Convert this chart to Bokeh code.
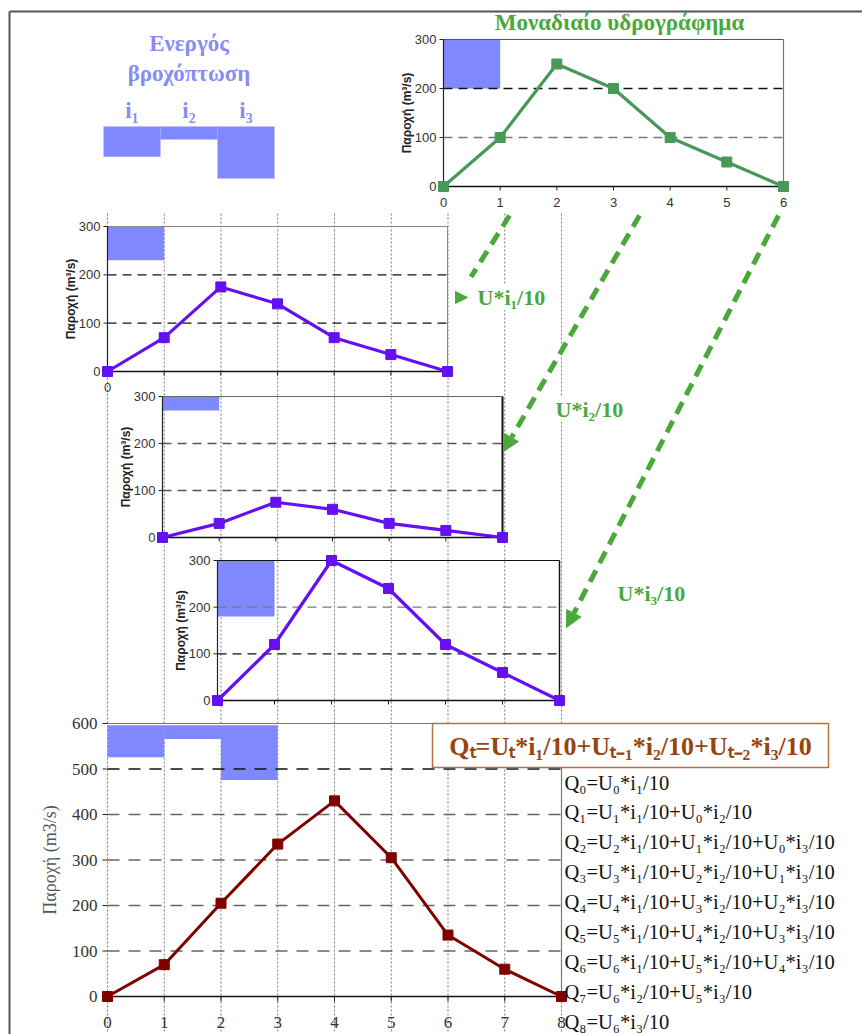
import numpy as np
from bokeh.plotting import figure
from bokeh.models import Range1d
from bokeh.core.properties import value
from bokeh.embed import file_html
from bokeh.resources import INLINE

# ---------------- data ----------------
rain_labels = ["i₁", "i₂", "i₃"]
rain = [7, 3, 12]                       # effective rainfall blocks
unit_rain = [10]                        # rainfall of the unit hydrograph
t_unit = [0, 1, 2, 3, 4, 5, 6]
U = [0, 100, 250, 200, 100, 50, 0]      # unit hydrograph
Q_i1 = [0, 70, 175, 140, 70, 35, 0]     # U*i1/10
Q_i2 = [0, 30, 75, 60, 30, 15, 0]       # U*i2/10
Q_i3 = [0, 120, 300, 240, 120, 60, 0]   # U*i3/10
t_total = [0, 1, 2, 3, 4, 5, 6, 7, 8]
Q_total = [0, 70, 205, 335, 430, 305, 135, 60, 0]
small_yticks = [0, 100, 200, 300]
final_yticks = [0, 100, 200, 300, 400, 500, 600]
title_rain = ["Ενεργός", "βροχόπτωση"]
title_unit = "Μοναδιαίο υδρογράφημα"
ylabel_small = "Παροχή (m³/s)"
ylabel_final = "Παροχή (m3/s)"
arrow_labels = ["U*i₁/10", "U*i₂/10", "U*i₃/10"]
formula_main = "Qₜ=Uₜ*i₁/10+Uₜ₋₁*i₂/10+Uₜ₋₂*i₃/10"
formula_lines = [
    "Q₀=U₀*i₁/10",
    "Q₁=U₁*i₁/10+U₀*i₂/10",
    "Q₂=U₂*i₁/10+U₁*i₂/10+U₀*i₃/10",
    "Q₃=U₃*i₁/10+U₂*i₂/10+U₁*i₃/10",
    "Q₄=U₄*i₁/10+U₃*i₂/10+U₂*i₃/10",
    "Q₅=U₅*i₁/10+U₄*i₂/10+U₃*i₃/10",
    "Q₆=U₆*i₁/10+U₅*i₂/10+U₄*i₃/10",
    "Q₇=U₆*i₂/10+U₅*i₃/10",
    "Q₈=U₆*i₃/10",
]

# ---------------- styles ----------------
BAR = "#8088FF"
PURPLE = "#6410F2"
GREEN_U = "#47995A"
GREEN_A = "#4BA83A"
DARKRED = "#800000"
HYETO_TXT = "#8A8CF2"
BOX_LINE = "#B3703F"
BOX_TXT = "#97440F"
SANS = value("Liberation Sans")
SERIF = value("Liberation Serif")

W, H = 862, 1034
PX0, PX1 = 0, W
PY0, PY1 = 0, H

p = figure(width=W, height=H, x_range=Range1d(PX0, PX1), y_range=Range1d(PY1, PY0),
           output_backend="svg", toolbar_location=None, x_axis_type=None, y_axis_type=None,
           min_border=0, outline_line_color=None, title_location=None,
           background_fill_color="white", border_fill_color="white")
p.grid.grid_line_color = None


def lin(d0, p0, d1, p1, px):
    return d0 + (px - p0) * (d1 - d0) / (p1 - p0)


SCALE = {}


def add_frame(name, xd, xp, yd, yp):
    p.extra_x_ranges[name] = Range1d(start=lin(xd[0], xp[0], xd[1], xp[1], PX0),
                                     end=lin(xd[0], xp[0], xd[1], xp[1], PX1))
    p.extra_y_ranges[name] = Range1d(start=lin(yd[0], yp[0], yd[1], yp[1], PY1),
                                     end=lin(yd[0], yp[0], yd[1], yp[1], PY0))
    SCALE[name] = (abs((xp[1] - xp[0]) / (xd[1] - xd[0])), abs((yp[1] - yp[0]) / (yd[1] - yd[0])))


add_frame("U", (0, 6), (443, 783), (0, 300), (186, 39))
add_frame("C1", (0, 6), (107, 447), (0, 300), (371, 226))
add_frame("C2", (0, 6), (162, 502), (0, 300), (537, 396))
add_frame("C3", (0, 6), (217, 559), (0, 300), (700, 560))
add_frame("F", (0, 8), (107, 561), (0, 600), (996, 723))
add_frame("H", (0, 3), (103, 274), (0, 12), (126, 178))

# page border
p.segment(x0=[9, 9], y0=[11, 11], x1=[9, 862], y1=[1034, 11], line_color="#555555", line_width=2)

# global dotted time lines
p.segment(x0=t_total, x1=t_total, y0=[213] * len(t_total), y1=[1032] * len(t_total),
          x_range_name="F", line_color="#777777", line_dash="2 2", line_width=1)


def small_chart(name, t, q, color, bar_value, grid_colors, border, xlabels, lw=3.2):
    kw = dict(x_range_name=name, y_range_name=name)
    sx, sy = SCALE[name]
    xmax, ymax = t[-1], small_yticks[-1]
    # hyetograph block
    p.quad(left=[0], right=[1], top=[ymax], bottom=[ymax - 10 * bar_value], fill_color=BAR,
           line_color=None, **kw)
    # dashed grid
    for yv, gc in zip(small_yticks[1:3], grid_colors):
        p.segment(x0=[0], x1=[xmax], y0=[yv], y1=[yv], line_color=gc, line_dash="9 6",
                  line_width=1.3, **kw)
    # frame: top, right
    p.segment(x0=[0], x1=[xmax], y0=[ymax], y1=[ymax], line_color=border[0], line_width=1.2, **kw)
    p.segment(x0=[xmax], x1=[xmax], y0=[0], y1=[ymax], line_color=border[1], line_width=border[2], **kw)
    # axes
    p.segment(x0=[0], x1=[0], y0=[0], y1=[ymax], line_color="#222222", line_width=1.2, **kw)
    p.segment(x0=[0], x1=[xmax], y0=[0], y1=[0], line_color="#111111", line_width=1.3, **kw)
    # ticks
    p.segment(x0=[0] * 4, x1=[-4 / sx] * 4, y0=small_yticks, y1=small_yticks, line_color="#222222", **kw)
    p.segment(x0=t, x1=t, y0=[0] * len(t), y1=[-4 / sy] * len(t), line_color="#222222", **kw)
    # tick labels
    p.text(x=[0] * 4, y=small_yticks, text=[str(v) for v in small_yticks], x_offset=-7,
           text_align="right", text_baseline="middle", text_font=SANS, text_font_size="13px",
           text_color="#333333", **kw)
    if xlabels:
        p.text(x=t[:len(xlabels)], y=[0] * len(xlabels), text=xlabels, y_offset=16,
               text_align="center", text_baseline="middle", text_font=SANS,
               text_font_size="13px", text_color="#333333", **kw)
    p.text(x=[0], y=[ymax / 2], text=[ylabel_small], angle=np.pi / 2, x_offset=-37,
           text_align="center", text_baseline="middle", text_font=SANS, text_font_size="12px",
           text_font_style="bold", text_color="#222222", **kw)
    # series
    p.line(t, q, line_color=color, line_width=lw, **kw)
    p.scatter(t, q, marker="square", size=10, fill_color=color, line_color=color, **kw)


small_chart("U", t_unit, U, GREEN_U, unit_rain[0], ["#777777", "#111111"],
            ("#555555", "#777777", 1.2), [str(v) for v in t_unit])
small_chart("C1", t_unit, Q_i1, PURPLE, rain[0], ["#111111", "#111111"],
            ("#888888", "#888888", 1.0), ["0"])
small_chart("C2", t_unit, Q_i2, PURPLE, rain[1], ["#555555", "#555555"],
            ("#666666", "#111111", 2.0), [])
small_chart("C3", t_unit, Q_i3, PURPLE, rain[2], ["#111111", "#777777"],
            ("#111111", "#111111", 1.5), [])

# unit hydrograph title
p.text(x=[619], y=[22], text=[title_unit], text_align="center", text_baseline="middle",
       text_font=SERIF, text_font_style="bold", text_font_size="23px", text_color=GREEN_A)

# ---------- effective rainfall hyetograph ----------
kwH = dict(x_range_name="H", y_range_name="H")
p.quad(left=[0, 1, 2], right=[1, 2, 3], top=[0, 0, 0], bottom=rain, fill_color=BAR,
       line_color=None, **kwH)
p.text(x=[0.5, 1.5, 2.5], y=[110] * 3, text=rain_labels, x_range_name="H",
       text_align="center", text_baseline="middle", text_font=SERIF, text_font_style="bold",
       text_font_size="23px", text_color=HYETO_TXT)
p.text(x=[1.5, 1.5], y=[43, 73], text=title_rain, x_range_name="H",
       text_align="center", text_baseline="middle", text_font=SERIF, text_font_style="bold",
       text_font_size="23px", text_color=HYETO_TXT)

# ---------- final composite hydrograph ----------
kwF = dict(x_range_name="F", y_range_name="F")
sxF, syF = SCALE["F"]
BAR_TOP_F = 596
p.quad(left=[0, 1, 2], right=[1, 2, 3], top=[BAR_TOP_F] * 3,
       bottom=[BAR_TOP_F - 10 * r for r in rain], fill_color=BAR, line_color=None, **kwF)
for yv in final_yticks[1:-1]:
    p.segment(x0=[0], x1=[8], y0=[yv], y1=[yv], line_color="#111111" if yv == 500 else "#666666",
              line_dash="12 9", line_width=1.5, **kwF)
p.segment(x0=[0], x1=[8], y0=[600], y1=[600], line_color="#777777", line_width=1.2, **kwF)
p.segment(x0=[8], x1=[8], y0=[0], y1=[600], line_color="#777777", line_width=1.2, **kwF)
p.segment(x0=[0], x1=[8], y0=[0], y1=[0], line_color="#111111", line_width=1.5, **kwF)
p.segment(x0=[0] * len(final_yticks), x1=[-5 / sxF] * len(final_yticks), y0=final_yticks,
          y1=final_yticks, line_color="#222222", **kwF)
p.segment(x0=t_total, x1=t_total, y0=[0] * 9, y1=[-5 / syF] * 9, line_color="#222222", **kwF)
p.text(x=[0] * len(final_yticks), y=final_yticks, text=[str(v) for v in final_yticks],
       x_offset=-10, text_align="right", text_baseline="middle", text_font=SERIF,
       text_font_size="17px", text_color="#333333", **kwF)
p.text(x=t_total, y=[1022] * 9, text=[str(v) for v in t_total], x_range_name="F",
       text_align="center", text_baseline="middle", text_font=SERIF, text_font_size="17px",
       text_color="#333333")
p.text(x=[0], y=[300], text=[ylabel_final], angle=np.pi / 2, x_offset=-58,
       text_align="center", text_baseline="middle", text_font=SERIF, text_font_size="18px",
       text_color="#555555", **kwF)
p.line(t_total, Q_total, line_color=DARKRED, line_width=3, **kwF)
p.scatter(t_total, Q_total, marker="square", size=10, fill_color=DARKRED, line_color=DARKRED, **kwF)

# formula box
p.quad(left=[432], right=[828], top=[723], bottom=[767], fill_color="white",
       line_color=BOX_LINE, line_width=1.5)
p.text(x=[630], y=[746], text=[formula_main], text_align="center", text_baseline="middle",
       text_font=SERIF, text_font_style="bold", text_font_size="26px", text_color=BOX_TXT)
ys = [782 + 29.9 * k for k in range(len(formula_lines))]
p.text(x=[8] * len(formula_lines), y=ys, text=formula_lines, x_range_name="F", x_offset=3,
       text_align="left", text_baseline="middle", text_font=SERIF, text_font_size="20.5px",
       text_color="#111111")


# ---------- green dashed arrows ----------
def arrow(x0, y0, x1, y1, head=True):
    d = np.array([x1 - x0, y1 - y0], dtype=float)
    d /= np.hypot(*d)
    n = np.array([-d[1], d[0]])
    tip = np.array([x1, y1], dtype=float)
    base = tip - d * 16
    p.line([x0, base[0]], [y0, base[1]], line_color=GREEN_A, line_width=5, line_dash="13 8")
    if head:
        pts = np.array([tip, base + n * 8, base - n * 8])
        p.patch(pts[:, 0], pts[:, 1], fill_color=GREEN_A, line_color=GREEN_A)


arrow(509, 215, 462, 290, head=False)
p.patch([455, 467, 455], [291, 297, 303], fill_color=GREEN_A, line_color=GREEN_A)
arrow(639, 215, 503, 451)
arrow(778, 215, 566, 627)

p.text(x=[477, 555, 617], y=[297, 409, 593], text=arrow_labels, text_align="left",
       text_baseline="middle", text_font=SERIF, text_font_style="bold", text_font_size="22px",
       text_color=GREEN_A, background_fill_color="white")

open("out.html", "w").write(file_html(p, INLINE))
